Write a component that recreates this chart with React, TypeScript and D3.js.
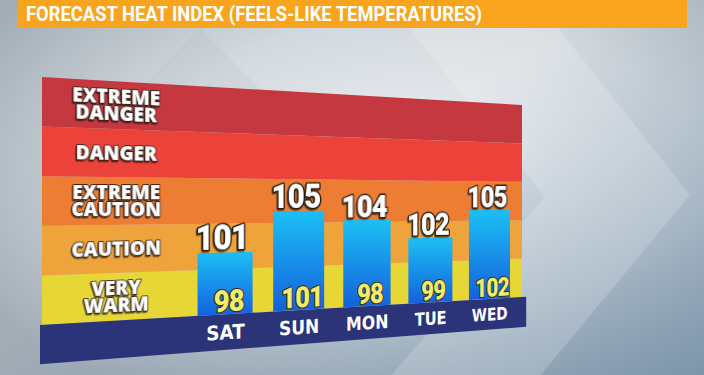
import React from 'react';
import * as d3 from 'd3';

// chart values
const title = 'FORECAST HEAT INDEX (FEELS-LIKE TEMPERATURES)';
const days = ['SAT', 'SUN', 'MON', 'TUE', 'WED'];
const feelsLike = [101, 105, 104, 102, 105];
const temps = [98, 101, 98, 99, 102];
const bandNames = [['VERY', 'WARM'], ['CAUTION'], ['EXTREME', 'CAUTION'], ['DANGER'], ['EXTREME', 'DANGER']];
const bandEdges = [95, 99.4, 103.8, 108.2, 112.6, 117];
const bandColors = ['#e7d736', '#eea43b', '#ee7d34', '#eb4239', '#c6383f'];

type Pt = [number, number];

// maps the flat board (w x h) onto the tilted quad seen on screen
function makeHomography(q: Pt[], w: number, h: number) {
  const [[x0, y0], [x1, y1], [x2, y2], [x3, y3]] = q;
  const dx1 = x1 - x2, dx2 = x3 - x2, dx3 = x0 - x1 + x2 - x3;
  const dy1 = y1 - y2, dy2 = y3 - y2, dy3 = y0 - y1 + y2 - y3;
  const den = dx1 * dy2 - dx2 * dy1;
  const g = (dx3 * dy2 - dx2 * dy3) / den;
  const hh = (dx1 * dy3 - dx3 * dy1) / den;
  const a = x1 - x0 + g * x1, b = x3 - x0 + hh * x3, c = x0;
  const d = y1 - y0 + g * y1, e = y3 - y0 + hh * y3, f = y0;
  return (fx: number, fy: number): Pt => {
    const u = fx / w, v = fy / h;
    const z = g * u + hh * v + 1;
    return [(a * u + b * v + c) / z, (d * u + e * v + f) / z];
  };
}

const App = () => {
  const W = 704, H = 375;
  const FW = 620, FH = 248, STRIP = 39;
  const P = makeHomography([[42, 77], [522, 105], [522, 297], [42, 325]], FW, FH);

  const y = d3.scaleLinear().domain([bandEdges[0], bandEdges[bandEdges.length - 1]]).range([FH, 0]);
  const x = d3.scaleBand().domain(days).range([155, 613]).paddingInner(0.28).paddingOuter(0.14);

  const line = d3.line();
  const quad = (ax: number, ay: number, bx: number, by: number) =>
    line([P(ax, ay), P(bx, ay), P(bx, by), P(ax, by)]) + 'Z';

  // local affine approximation of the perspective, for text
  const warp = (fx: number, fy: number) => {
    const [px, py] = P(fx, fy);
    const [ax, ay] = P(fx + 1, fy);
    const [bx, by] = P(fx, fy + 1);
    return `matrix(${ax - px},${ay - py},${bx - px},${by - py},${px},${py})`;
  };

  const labelX = 77;
  const lineGap = 18;

  return (
    <svg width={W} height={H} style={{ position: 'absolute', left: 0, top: 0 }}>
      <defs>
        <radialGradient id="bg" cx="0.6" cy="0.45" r="0.72">
          <stop offset="0" stopColor="#eef1f4" />
          <stop offset="0.55" stopColor="#d3d9de" />
          <stop offset="1" stopColor="#a3adb6" />
        </radialGradient>
        <linearGradient id="tint" x1="0" y1="0" x2="1" y2="1">
          <stop offset="0.45" stopColor="#6f8ca6" stopOpacity="0" />
          <stop offset="1" stopColor="#6f8ca6" stopOpacity="0.75" />
        </linearGradient>
        <linearGradient id="bar" x1="0" y1="0" x2="0" y2="1">
          <stop offset="0" stopColor="#1cc0f4" />
          <stop offset="1" stopColor="#1461de" />
        </linearGradient>
        <filter id="shadow" x="-20%" y="-20%" width="140%" height="140%">
          <feDropShadow dx="-1" dy="1.5" stdDeviation="0.8" floodColor="#000" floodOpacity="0.6" />
        </filter>
      </defs>

      {/* backdrop */}
      <rect width={W} height={H} fill="url(#bg)" />
      <rect width={W} height={H} fill="url(#tint)" />
      <path d="M520,-20 L690,195 L520,400 L370,400 L545,197 L370,-20 Z" fill="#ffffff" opacity={0.18} />
      <path d="M200,28 L330,160 L200,300 L70,160 Z" fill="#8a96a0" opacity={0.08} />

      {/* title bar */}
      <rect x={18} y={0} width={669} height={28} fill="#f8a51d" />
      <text x={26} y={21} fill="#fff" fontFamily="Roboto" fontWeight={700} fontSize={20}
        textLength={456} lengthAdjust="spacingAndGlyphs">{title}</text>

      {/* heat index bands */}
      {bandColors.map((col, i) => (
        <path key={`band-${i}`} d={quad(0, y(bandEdges[i + 1]), FW, y(bandEdges[i]))} fill={col} />
      ))}

      {/* day strip */}
      <path d={quad(-2, FH, FW + 7, FH + STRIP)} fill="#2b3479" />

      {/* bars */}
      {days.map((day, i) => (
        <path key={`bar-${day}`} d={quad(x(day)!, y(feelsLike[i]), x(day)! + x.bandwidth(), FH)} fill="url(#bar)" />
      ))}

      {/* band labels, one text per band with a tspan per line */}
      {bandNames.map((lines, i) => {
        const cy = (y(bandEdges[i]) + y(bandEdges[i + 1])) / 2;
        const base = cy + 7 - ((lines.length - 1) * lineGap) / 2;
        return (
          <g key={`bl-${i}`} transform={warp(labelX, base)}>
            <text textAnchor="middle" fill="#fff" stroke="#3b2417" strokeWidth={2}
              strokeLinejoin="round" paintOrder="stroke" fontFamily="Open Sans" fontWeight={800}
              fontSize={20.5} filter="url(#shadow)">
              {lines.map((t, j) => (
                <tspan key={t + j} x={0} dy={j === 0 ? 0 : lineGap}>{t}</tspan>
              ))}
            </text>
          </g>
        );
      })}

      {/* feels-like values */}
      {days.map((day, i) => (
        <g key={`hi-${day}`} transform={warp(x(day)! + x.bandwidth() / 2 - 4, y(feelsLike[i]) - 3.5)}>
          <text textAnchor="middle" fill="#fff" stroke="#2b1a10" strokeWidth={3.5} strokeLinejoin="round"
            paintOrder="stroke" fontFamily="Roboto" fontWeight={900} fontSize={38}
            letterSpacing={-1} filter="url(#shadow)">{feelsLike[i]}</text>
        </g>
      ))}

      {/* actual temperatures */}
      {days.map((day, i) => (
        <g key={`lo-${day}`} transform={warp(x(day)! + x.bandwidth() / 2 + 4, FH - 3)}>
          <text textAnchor="middle" fill="#f1ec6a" stroke="#3a2f10" strokeWidth={2.5} strokeLinejoin="round"
            paintOrder="stroke" fontFamily="Roboto" fontWeight={900} fontSize={33}
            letterSpacing={-1}>{temps[i]}</text>
        </g>
      ))}

      {/* day names */}
      {days.map((day) => (
        <g key={`day-${day}`} transform={warp(x(day)! + x.bandwidth() / 2, FH + 27.5)}>
          <text textAnchor="middle" fill="#fff" fontFamily="DejaVu Sans" fontWeight={700}
            fontSize={22}>{day}</text>
        </g>
      ))}
    </svg>
  );
};

export default App;
